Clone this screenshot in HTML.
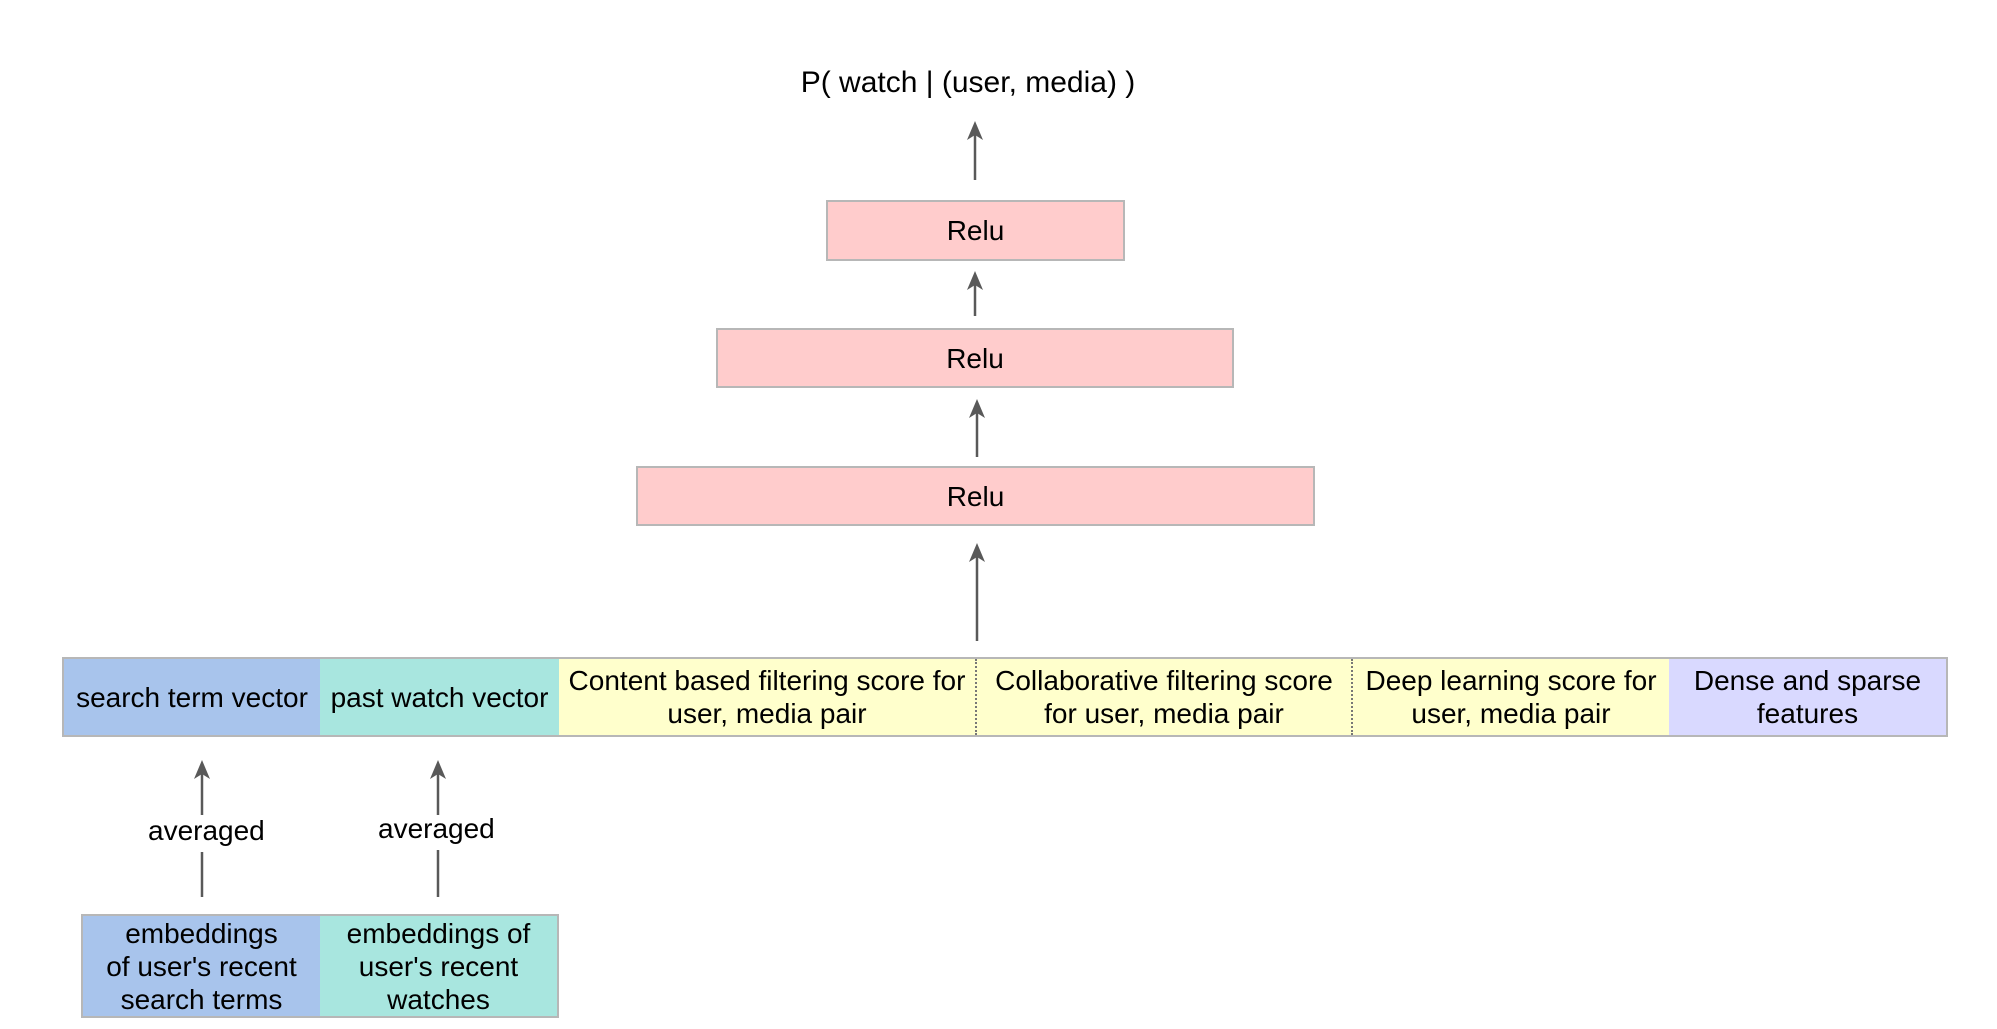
<!DOCTYPE html>
<html><head><meta charset="utf-8"><style>
html,body{margin:0;padding:0;background:#fff;}
body{width:1997px;height:1029px;position:relative;overflow:hidden;font-family:"Liberation Sans",Arial,sans-serif;color:#000;}
.b{position:absolute;box-sizing:border-box;display:flex;align-items:center;justify-content:center;text-align:center;font-size:28px;line-height:33px;}
.relu{background:#ffcccc;border:2px solid #b7b7b7;}
.t{position:absolute;font-size:28px;white-space:nowrap;}
</style></head><body>
<div class="t" style="left:0;width:1936px;text-align:center;top:66px;font-size:30px;">P( watch | (user, media) )</div>
<div class="b relu" style="left:826px;top:200px;width:299px;height:61px;">Relu</div>
<div class="b relu" style="left:716px;top:328px;width:518px;height:60px;">Relu</div>
<div class="b relu" style="left:636px;top:466px;width:679px;height:60px;">Relu</div>

<div style="position:absolute;left:62px;top:657px;width:1886px;height:80px;border:2px solid #b7b7b7;box-sizing:border-box;"></div>
<div class="b" style="left:64px;top:659px;width:256px;height:76px;background:#a8c4ec;">search term vector</div>
<div class="b" style="left:320px;top:659px;width:239px;height:76px;background:#a8e6df;">past watch vector</div>
<div class="b" style="left:559px;top:659px;width:416px;height:76px;background:#ffffcc;">Content based filtering score for<br>user, media pair</div>
<div class="b" style="left:975px;top:659px;width:376px;height:76px;background:#ffffcc;border-left:2px dotted #777;">Collaborative filtering score<br>for user, media pair</div>
<div class="b" style="left:1351px;top:659px;width:318px;height:76px;background:#ffffcc;border-left:2px dotted #777;">Deep learning score for<br>user, media pair</div>
<div class="b" style="left:1669px;top:659px;width:277px;height:76px;background:#d9d9ff;">Dense and sparse<br>features</div>

<div style="position:absolute;left:81px;top:914px;width:478px;height:104px;border:2px solid #b7b7b7;box-sizing:border-box;"></div>
<div class="b" style="left:83px;top:916px;width:237px;height:100px;background:#a8c4ec;">embeddings<br>of user's recent<br>search terms</div>
<div class="b" style="left:320px;top:916px;width:237px;height:100px;background:#a8e6df;">embeddings of<br>user's recent<br>watches</div>

<div class="t" style="left:148px;top:815px;">averaged</div>
<div class="t" style="left:378px;top:813px;">averaged</div>

<svg width="1997" height="1029" style="position:absolute;left:0;top:0;" fill="#595959" stroke="#595959">
<g stroke-width="2.5">
<line x1="975" y1="180" x2="975" y2="130"/>
<line x1="975" y1="316" x2="975" y2="279"/>
<line x1="977" y1="457" x2="977" y2="407"/>
<line x1="977" y1="641" x2="977" y2="551"/>
<line x1="202" y1="815" x2="202" y2="768"/>
<line x1="202" y1="852" x2="202" y2="897"/>
<line x1="438" y1="815" x2="438" y2="768"/>
<line x1="438" y1="850" x2="438" y2="897"/>
</g>
<g stroke="none">
<polygon points="975,121 967,140 975,135 983,140"/>
<polygon points="975,271 967,290 975,285 983,290"/>
<polygon points="977,399 969,418 977,413 985,418"/>
<polygon points="977,543 969,562 977,557 985,562"/>
<polygon points="202,760 194,779 202,774 210,779"/>
<polygon points="438,760 430,779 438,774 446,779"/>
</g>
</svg>
</body></html>
